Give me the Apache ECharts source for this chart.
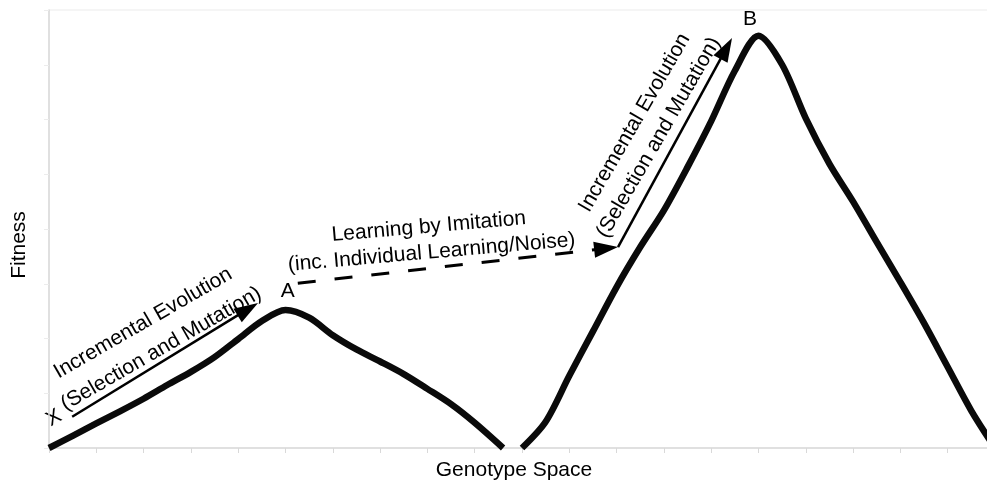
<!DOCTYPE html>
<html><head><meta charset="utf-8">
<script src="https://cdn.jsdelivr.net/npm/echarts@6/dist/echarts.min.js"></script>
<style>html,body{margin:0;padding:0;background:#fff}#c{width:987px;height:483px}</style>
</head><body><div id="c"></div>
<script>
// Fitness landscape (genotype units 0-20, fitness units 0-8)
const leftX  = [0, 0.5, 1, 1.5, 2, 2.5, 3, 3.5, 4, 4.5, 5, 5.5, 6, 6.5, 7, 7.5, 8, 8.5, 9, 9.6];
const leftY  = [0, 0.22, 0.45, 0.67, 0.9, 1.15, 1.39, 1.66, 1.99, 2.32, 2.52, 2.38, 2.06, 1.8, 1.58, 1.35, 1.08, 0.8, 0.46, 0];
const rightX = [10, 10.5, 11, 11.5, 12, 12.5, 13, 13.5, 14, 14.5, 15, 15.5, 16, 16.5, 17, 17.5, 18, 18.5, 19, 19.5, 20];
const rightY = [0, 0.48, 1.32, 2.13, 2.94, 3.67, 4.34, 5.13, 5.97, 6.89, 7.53, 7.0, 6.02, 5.19, 4.5, 3.76, 3.03, 2.28, 1.48, 0.68, 0];

// Arrows (data coordinates: start -> tip)
const arrowFromX = [0.49, 5.26, 12.03];
const arrowFromY = [0.57, 3.01, 3.67];
const arrowToX   = [4.42, 12.03, 14.44];
const arrowToY   = [2.65, 3.67, 7.49];
const arrowDashed = [false, true, false];

// Annotation texts (data coordinates of text centre)
const labelText = ['Incremental Evolution', '(Selection and Mutation)',
  'Learning by Imitation', '(inc. Individual Learning/Noise)',
  'Incremental Evolution', '(Selection and Mutation)', 'A', 'B', 'X'];
const labelX = [1.99, 2.37, 8.03, 8.09, 12.38, 12.89, 5.05, 14.82, 0.106];
const labelY = [2.28, 1.81, 4.04, 3.57, 5.94, 5.67, 2.87, 7.84, 0.548];
const labelAngle = [30, 30, 5, 5, 60, 60, 0, 0, 30];

const xTitle = 'Genotype Space';
const yTitle = 'Fitness';

const FONT = '"Liberation Sans", Arial, sans-serif';
const chart = echarts.init(document.getElementById('c'), null, {renderer: 'canvas'});

const axisGray = '#d9d9d9';
const curveStyle = {color: '#0a0a0a', width: 6.5, cap: 'butt', join: 'round'};

const base = {
  animation: false,
  backgroundColor: '#fff',
  grid: {left: 49, width: 946, top: 10, height: 438, containLabel: false, outerBoundsMode: 'none',
    show: true, borderColor: '#ebebeb', borderWidth: 1, backgroundColor: 'transparent'},
  xAxis: {type: 'value', min: 0, max: 20, interval: 1,
    axisLine: {show: true, lineStyle: {color: axisGray, width: 1.5}},
    axisTick: {show: true, length: 5, lineStyle: {color: axisGray, width: 1}},
    axisLabel: {show: false}, splitLine: {show: false}},
  yAxis: {type: 'value', min: 0, max: 8, interval: 1,
    axisLine: {show: true, lineStyle: {color: axisGray, width: 1.5}},
    axisTick: {show: true, length: 5, lineStyle: {color: '#ececec', width: 1}},
    axisLabel: {show: false}, splitLine: {show: false}},
  series: [
    {name: 'left', type: 'line', data: leftX.map((x, i) => [x, leftY[i]]), smooth: 0.3,
     showSymbol: false, symbol: 'none', clip: false, lineStyle: curveStyle},
    {name: 'right', type: 'line', data: rightX.map((x, i) => [x, rightY[i]]), smooth: 0.3,
     showSymbol: false, symbol: 'none', clip: false, lineStyle: curveStyle}
  ]
};
chart.setOption(base);

const toPx = (x, y) => chart.convertToPixel({gridIndex: 0}, [x, y]);
const toData = (p) => chart.convertFromPixel({gridIndex: 0}, p);

const HEAD_LEN = 24, HEAD_W = 16;
const mlData = arrowFromX.map((fx, i) => {
  const a = toPx(fx, arrowFromY[i]);
  const b = toPx(arrowToX[i], arrowToY[i]);
  const dx = b[0] - a[0], dy = b[1] - a[1];
  const L = Math.hypot(dx, dy);
  const e = [b[0] - dx / L * HEAD_LEN / 2, b[1] - dy / L * HEAD_LEN / 2];
  return [
    {coord: [fx, arrowFromY[i]], symbol: 'none',
     lineStyle: {color: '#000', width: arrowDashed[i] ? 3 : 2.5, type: arrowDashed[i] ? [18, 19] : 'solid', cap: 'butt'}},
    {coord: toData(e), symbol: 'triangle', symbolSize: [HEAD_W, HEAD_LEN]}
  ];
});

const graphics = labelText.map((t, i) => {
  const p = toPx(labelX[i], labelY[i]);
  return {type: 'text', x: p[0], y: p[1], rotation: labelAngle[i] * Math.PI / 180, silent: true,
    style: {text: t, fontFamily: FONT, fontSize: 21, fill: '#000', align: 'center', verticalAlign: 'middle'}};
});
graphics.push({type: 'text', x: 19.5, y: 245, rotation: Math.PI / 2, silent: true,
  style: {text: yTitle, fontFamily: FONT, fontSize: 21, fill: '#000', align: 'center', verticalAlign: 'middle'}});
graphics.push({type: 'text', x: 514, y: 470, silent: true,
  style: {text: xTitle, fontFamily: FONT, fontSize: 21, fill: '#000', align: 'center', verticalAlign: 'middle'}});

chart.setOption({
  series: [{name: 'left', markLine: {silent: true, animation: false, label: {show: false},
    itemStyle: {color: '#000'}, lineStyle: {color: '#000'}, emphasis: {disabled: true}, data: mlData}}],
  graphic: graphics
});
</script></body></html>
